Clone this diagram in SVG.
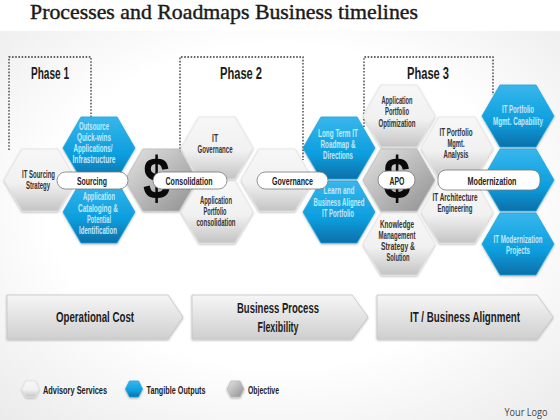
<svg xmlns="http://www.w3.org/2000/svg" width="560" height="420" viewBox="0 0 560 420">
<defs>
<linearGradient id="gw" x1="0" y1="0" x2="0" y2="1"><stop offset="0" stop-color="#f7f7f7"/><stop offset=".55" stop-color="#f1f1f1"/><stop offset="1" stop-color="#c4c4c4"/></linearGradient>
<linearGradient id="gb" x1="0" y1="0" x2="0" y2="1"><stop offset="0" stop-color="#38b6ec"/><stop offset=".6" stop-color="#0c9ede"/><stop offset="1" stop-color="#0a6fa8"/></linearGradient>
<linearGradient id="gg" x1="0" y1="0" x2="1" y2="1"><stop offset="0" stop-color="#e4e4e4"/><stop offset="1" stop-color="#8f8f8f"/></linearGradient>
<linearGradient id="ga" x1="0" y1="0" x2="0" y2="1"><stop offset="0" stop-color="#f6f6f6"/><stop offset="1" stop-color="#cfcfcf"/></linearGradient>
<radialGradient id="bg" cx=".5" cy=".45" r=".75"><stop offset=".55" stop-color="#ffffff"/><stop offset="1" stop-color="#eaeaea"/></radialGradient>
<filter id="sh" x="-10%" y="-10%" width="120%" height="125%"><feDropShadow dx="0" dy="1" stdDeviation="1" flood-color="#000" flood-opacity=".3"/></filter>
<polygon id="hex" points="-36,0 -18,-31 18,-31 36,0 18,31 -18,31" filter="url(#sh)"/>
<polygon id="lhex" points="-8.5,0 -4.5,-8 4.5,-8 8.5,0 4.5,8 -4.5,8" filter="url(#sh)"/>
</defs>
<style>
text{font-family:"Liberation Sans",Arial,sans-serif;text-anchor:middle;fill:#111;font-weight:700}
.w{fill:url(#gw);stroke:#e2e2e2;stroke-width:.8}
.b{fill:url(#gb);stroke:#1aa6e0;stroke-width:.8}
.g{fill:url(#gg);stroke:#bbb;stroke-width:.8}
.t{font-size:10px;fill:#333}
.tb{font-size:10px;fill:#c4e9f9}
.pill{fill:#fff;stroke:#777;stroke-width:.8}
.pt{font-size:11px;fill:#222}
.ph{font-size:16px;fill:#1a1a1a}
.dash{fill:none;stroke:#333;stroke-width:1.3;stroke-dasharray:1.6 1.6}
.arrow{fill:url(#ga);stroke:#c4c4c4;stroke-width:.8;filter:url(#sh)}
.at{font-size:15px;fill:#1c1c1c}
.lg{font-size:11px;text-anchor:start;fill:#222}
.dollar{font-size:60px;fill:#0a0a0a}
</style>
<rect width="560" height="420" fill="#fff"/>
<rect y="31" width="560" height="389" fill="url(#bg)"/>
<text x="224" y="19" lengthAdjust="spacingAndGlyphs" textLength="388" style="font-family:'Liberation Serif',serif;font-size:21px;font-weight:400;fill:#1a1a1a;stroke:#1a1a1a;stroke-width:.4">Processes and Roadmaps Business timelines</text>

<g id="connectors">
<path class="dash" d="M9,150V57H91V117"/>
<path class="dash" d="M180,152V57H303V160"/>
<path class="dash" d="M364,127V57H493V95"/>
</g>

<g id="phase-labels">
<text class="ph" x="50" y="79" textLength="38" lengthAdjust="spacingAndGlyphs">Phase 1</text>
<text class="ph" x="241" y="79" textLength="42" lengthAdjust="spacingAndGlyphs">Phase 2</text>
<text class="ph" x="428" y="79" textLength="42" lengthAdjust="spacingAndGlyphs">Phase 3</text>
</g>

<g id="n-it-sourcing"><use href="#hex" class="w" x="40" y="180"/><text class="t" x="38.500" y="178" textLength="33" lengthAdjust="spacingAndGlyphs">IT Sourcing</text><text class="t" x="38" y="189" textLength="24" lengthAdjust="spacingAndGlyphs">Strategy</text></g>
<g id="n-outsource"><use href="#hex" class="b" x="99" y="148"/><text class="tb" x="94" y="130" textLength="30" lengthAdjust="spacingAndGlyphs">Outsource</text><text class="tb" x="94" y="141" textLength="34" lengthAdjust="spacingAndGlyphs">Quick-wins</text><text class="tb" x="93" y="152" textLength="39" lengthAdjust="spacingAndGlyphs">Applications/</text><text class="tb" x="94" y="163" textLength="43" lengthAdjust="spacingAndGlyphs">Infrastructure</text></g>
<g id="n-catalog"><use href="#hex" class="b" x="99" y="212"/><text class="tb" x="99" y="200" textLength="32" lengthAdjust="spacingAndGlyphs">Application</text><text class="tb" x="98" y="212" textLength="40" lengthAdjust="spacingAndGlyphs">Cataloging  &amp;</text><text class="tb" x="99" y="223" textLength="24" lengthAdjust="spacingAndGlyphs">Potential</text><text class="tb" x="98" y="234" textLength="38" lengthAdjust="spacingAndGlyphs">Identification</text></g>
<g id="n-dollar1"><use href="#hex" class="g" x="161" y="180"/><text class="dollar" x="156.500" y="199" textLength="27" lengthAdjust="spacingAndGlyphs">$</text></g>
<g id="n-it-gov"><use href="#hex" class="w" x="217" y="148"/><text class="t" x="215" y="142" textLength="6" lengthAdjust="spacingAndGlyphs">IT</text><text class="t" x="215" y="153" textLength="35" lengthAdjust="spacingAndGlyphs">Governance</text></g>
<g id="n-app-cons"><use href="#hex" class="w" x="217" y="212"/><text class="t" x="216" y="204" textLength="32" lengthAdjust="spacingAndGlyphs">Application</text><text class="t" x="215" y="215" textLength="23" lengthAdjust="spacingAndGlyphs">Portfolio</text><text class="t" x="216" y="226" textLength="39" lengthAdjust="spacingAndGlyphs">consolidation</text></g>
<g id="n-gov"><use href="#hex" class="w" x="277" y="180"/></g>
<g id="n-longterm"><use href="#hex" class="b" x="339" y="148"/><text class="tb" x="338" y="137" textLength="40" lengthAdjust="spacingAndGlyphs">Long Term IT</text><text class="tb" x="338" y="148" textLength="35" lengthAdjust="spacingAndGlyphs">Roadmap  &amp;</text><text class="tb" x="338" y="159" textLength="30" lengthAdjust="spacingAndGlyphs">Directions</text></g>
<g id="n-learn"><use href="#hex" class="b" x="339" y="212"/><text class="tb" x="339" y="194" textLength="31" lengthAdjust="spacingAndGlyphs">Learn and</text><text class="tb" x="339" y="206" textLength="51" lengthAdjust="spacingAndGlyphs">Business Aligned</text><text class="tb" x="338" y="217" textLength="32" lengthAdjust="spacingAndGlyphs">IT Portfolio</text></g>
<g id="n-app-opt"><use href="#hex" class="w" x="399" y="116"/><text class="t" x="397" y="104" textLength="31" lengthAdjust="spacingAndGlyphs">Application</text><text class="t" x="397" y="115" textLength="24" lengthAdjust="spacingAndGlyphs">Portfolio</text><text class="t" x="397" y="127" textLength="37" lengthAdjust="spacingAndGlyphs">Optimization</text></g>
<g id="n-apo"><use href="#hex" class="g" x="399" y="180"/><text class="dollar" x="397" y="199" textLength="27" lengthAdjust="spacingAndGlyphs">$</text></g>
<g id="n-knowledge"><use href="#hex" class="w" x="399" y="244"/><text class="t" x="397" y="228" textLength="34" lengthAdjust="spacingAndGlyphs">Knowledge</text><text class="t" x="397" y="239" textLength="37" lengthAdjust="spacingAndGlyphs">Management</text><text class="t" x="398" y="250" textLength="34" lengthAdjust="spacingAndGlyphs">Strategy  &amp;</text><text class="t" x="398" y="261" textLength="23" lengthAdjust="spacingAndGlyphs">Solution</text></g>
<g id="n-pf-analysis"><use href="#hex" class="w" x="457" y="148"/><text class="t" x="456" y="136" textLength="33" lengthAdjust="spacingAndGlyphs">IT Portfolio</text><text class="t" x="456" y="147" textLength="17" lengthAdjust="spacingAndGlyphs">Mgmt.</text><text class="t" x="456" y="158" textLength="25" lengthAdjust="spacingAndGlyphs">Analysis</text></g>
<g id="n-arch"><use href="#hex" class="w" x="457" y="212"/><text class="t" x="455" y="201" textLength="45" lengthAdjust="spacingAndGlyphs">IT Architecture</text><text class="t" x="455" y="212" textLength="35" lengthAdjust="spacingAndGlyphs">Engineering</text></g>
<g id="n-capability"><use href="#hex" class="b" x="518" y="116"/><text class="tb" x="518" y="113" textLength="32" lengthAdjust="spacingAndGlyphs">IT Portfolio</text><text class="tb" x="518" y="125" textLength="50" lengthAdjust="spacingAndGlyphs">Mgmt.  Capability</text></g>
<g id="n-mid-blue"><use href="#hex" class="b" x="518" y="180"/></g>
<g id="n-modprojects"><use href="#hex" class="b" x="518" y="244"/><text class="tb" x="518" y="243" textLength="49" lengthAdjust="spacingAndGlyphs">IT Modernization</text><text class="tb" x="518" y="254" textLength="24" lengthAdjust="spacingAndGlyphs">Projects</text></g>

<g id="p-sourcing"><rect class="pill" x="57" y="172" width="71" height="17" rx="8.5"/><text class="pt" x="92" y="184.500" textLength="30" lengthAdjust="spacingAndGlyphs">Sourcing</text></g>
<g id="p-consolidation"><rect class="pill" x="153" y="172" width="74" height="17" rx="8.5"/><text class="pt" x="189" y="184.500" textLength="47" lengthAdjust="spacingAndGlyphs">Consolidation</text></g>
<g id="p-governance"><rect class="pill" x="257" y="172" width="71" height="17" rx="8.5"/><text class="pt" x="292.500" y="184.500" textLength="41" lengthAdjust="spacingAndGlyphs">Governance</text></g>
<g id="p-apo"><rect class="pill" x="378" y="171" width="37" height="18" rx="9"/><text class="pt" x="397" y="184.500" textLength="15" lengthAdjust="spacingAndGlyphs">APO</text></g>
<g id="p-modernization"><rect class="pill" x="438" y="170" width="102" height="20" rx="8"/><text class="pt" x="492" y="184.500" textLength="49" lengthAdjust="spacingAndGlyphs">Modernization</text></g>

<g id="a-opcost"><path class="arrow" d="M7,295H168L183,317L168,339H7Z"/><text class="at" x="95" y="322" textLength="78" lengthAdjust="spacingAndGlyphs">Operational Cost</text></g>
<g id="a-flex"><path class="arrow" d="M192,295H352L368,317L352,339H192Z"/><text class="at" x="278" y="313" textLength="82" lengthAdjust="spacingAndGlyphs">Business Process</text><text class="at" x="278" y="332" textLength="41" lengthAdjust="spacingAndGlyphs">Flexibility</text></g>
<g id="a-align"><path class="arrow" d="M377,295H537L553,317L537,339H377Z"/><text class="at" x="465" y="322" textLength="110" lengthAdjust="spacingAndGlyphs">IT / Business Alignment</text></g>

<g id="legend-advisory"><use href="#lhex" class="w" x="30.500" y="389"/><text class="lg" x="43" y="394" textLength="64" lengthAdjust="spacingAndGlyphs">Advisory Services</text></g>
<g id="legend-tangible"><use href="#lhex" class="b" x="134" y="389"/><text class="lg" x="146.500" y="394" textLength="59" lengthAdjust="spacingAndGlyphs">Tangible Outputs</text></g>
<g id="legend-objective"><use href="#lhex" class="g" x="235.500" y="389"/><text class="lg" x="248" y="394" textLength="31" lengthAdjust="spacingAndGlyphs">Objective</text></g>
<text x="526" y="416" textLength="43" lengthAdjust="spacingAndGlyphs" style="font-family:'Open Sans','Liberation Sans',sans-serif;font-size:10px;font-weight:400;fill:#444">Your Logo</text>
</svg>
